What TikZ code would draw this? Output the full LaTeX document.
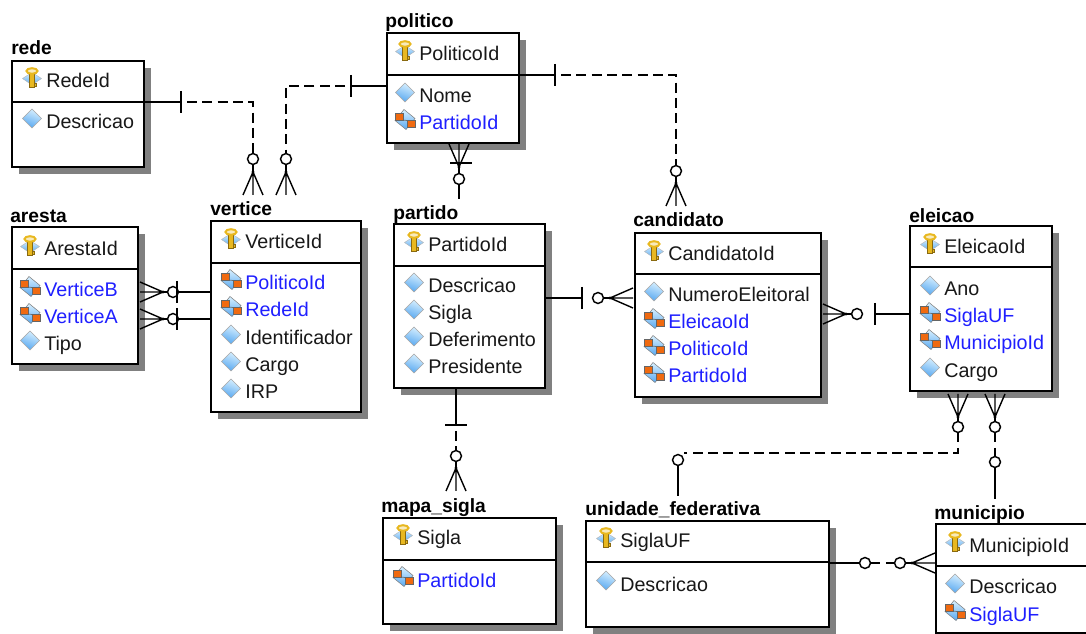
\documentclass[tikz,border=0pt]{standalone}
\usepackage{fontspec}
\setmainfont{Liberation Sans}
\usetikzlibrary{shadows,calc}
\definecolor{fkblue}{HTML}{1F1FFF}
\definecolor{shadowgray}{HTML}{808080}
\definecolor{txtdark}{HTML}{181818}
\definecolor{icontop}{HTML}{D8F0FF}
\definecolor{iconbot}{HTML}{58A8F0}
\definecolor{keygold}{HTML}{E8B820}
\definecolor{keyedge}{HTML}{8A6A10}
\definecolor{fkorange}{HTML}{F06A10}
\tikzset{
  entitybox/.style={draw=black,line width=1.4pt,fill=white,inner sep=0pt,outer sep=0pt,anchor=north west,
    general shadow={fill=shadowgray,shadow xshift=5.25pt,shadow yshift=-5.25pt}},
  titletext/.style={anchor=base west,inner sep=0pt,font=\fontsize{14.4}{17}\selectfont\bfseries,text=black},
  attrtext/.style={anchor=base west,inner sep=0pt,font=\fontsize{14.8}{17}\selectfont,text=txtdark},
  fktext/.style={attrtext,text=fkblue},
  solidline/.style={line width=1.1pt,black},
  dashline/.style={line width=1.1pt,black,dash pattern=on 7.5pt off 4pt},
  ringnode/.style={circle,draw=black,line width=1.1pt,fill=white,minimum size=8.2pt,inner sep=0pt,outer sep=0pt},
  pics/crowfeet/.style={code={
    \draw[line width=1.05pt] (0,0) -- (23,0) (0,0) -- (23,10) (0,0) -- (23,-10);
    \fill (0,0) circle[radius=1.3pt];
  }},
  pics/tickmark/.style={code={\draw[line width=1.1pt] (0,-11) -- (0,11);}},
  pics/attricon/.style={code={
    \shade[top color=icontop,bottom color=iconbot,draw=black!35,line width=.4pt,shading angle=-20]
      (0,-9.5) -- (9.5,0) -- (0,9.5) -- (-9.5,0) -- cycle;
  }},
  pics/fkicon/.style={code={
    \shade[top color=icontop,bottom color=iconbot,draw=black!50,line width=.4pt]
      (-1,-10) -- (10,-1) -- (1,10) -- (-10,1) -- cycle;
    \fill[fkorange,draw=black!60,line width=.3pt] (-10,-6.5) rectangle (-2,0.5);
    \fill[fkorange,draw=black!60,line width=.3pt] (2,1) rectangle (10,8);
    \draw[black!60,line width=.5pt] (-2,0.5) -- (2,1);
  }},
  pics/keyicon/.style={code={
    \shade[top color=icontop,bottom color=iconbot,draw=black!30,line width=.3pt]
      (0,-5) -- (9.5,1) -- (0,7.5) -- (-9.5,1) -- cycle;
    \draw[draw=keyedge,fill=keygold,line width=.4pt] (-2.3,-4) rectangle (2.3,9.5);
    \draw[draw=keyedge,fill=keygold,line width=.4pt] (2.3,5.5) rectangle (4.5,8.5);
    \draw[draw=keygold,fill=white!70!keygold,line width=1.5pt] (0,-6.5) ellipse[x radius=5.5,y radius=2.8];
  }},
}
\newcommand{\entitybox}[8]{%
  \node[entitybox,minimum width={(#4-#2)*0.75pt},minimum height={(#5-#3)*0.75pt}] (#1) at (#2,#3) {};
  \draw[line width=1.2pt] (#1.west |- 0,#6) -- (#1.east |- 0,#6);
  \node[titletext] (#1-title) at (#7,#8+1.5) {\detokenize{#1}};
}
\newcommand{\keyrow}[4]{\pic at (#2,#3-9.5) {keyicon}; \node[attrtext] (#1-#4) at (#2+14,#3+1) {#4};}
\newcommand{\plainrow}[4]{\pic at (#2,#3-9.5) {attricon}; \node[attrtext] (#1-#4) at (#2+14,#3+1) {#4};}
\newcommand{\fkrow}[4]{\pic at (#2,#3-9.5) {fkicon}; \node[fktext] (#1-#4) at (#2+14,#3+1) {#4};}
\begin{document}
\begin{tikzpicture}[x=0.75pt,y=-0.75pt]
\useasboundingbox (0,0) rectangle (1086,634);
\clip (0,0) rectangle (1086,634);

% rede
\entitybox{rede}{12}{61}{144}{167}{102}{11}{53}
\keyrow{rede}{32}{87}{RedeId}
\plainrow{rede}{32}{128}{Descricao}
% politico
\entitybox{politico}{387}{33}{519}{143}{75}{385}{26}
\keyrow{politico}{405}{60}{PoliticoId}
\plainrow{politico}{405}{102}{Nome}
\fkrow{politico}{405}{129}{PartidoId}
% aresta
\entitybox{aresta}{12}{227}{138}{364}{269}{10}{221}
\keyrow{aresta}{30}{255}{ArestaId}
\fkrow{aresta}{30}{296}{VerticeB}
\fkrow{aresta}{30}{323}{VerticeA}
\plainrow{aresta}{30}{350}{Tipo}
% vertice
\entitybox{vertice}{211}{221}{361}{412}{263}{210}{214}
\keyrow{vertice}{231}{248}{VerticeId}
\fkrow{vertice}{231}{289}{PoliticoId}
\fkrow{vertice}{231}{316}{RedeId}
\plainrow{vertice}{231}{344}{Identificador}
\plainrow{vertice}{231}{371}{Cargo}
\plainrow{vertice}{231}{398}{IRP}
% partido
\entitybox{partido}{394}{224}{545}{388}{266}{393}{218}
\keyrow{partido}{414}{251}{PartidoId}
\plainrow{partido}{414}{292}{Descricao}
\plainrow{partido}{414}{319}{Sigla}
\plainrow{partido}{414}{346}{Deferimento}
\plainrow{partido}{414}{373}{Presidente}
% candidato
\entitybox{candidato}{635}{233}{821}{397}{274}{633}{225}
\keyrow{candidato}{654}{260}{CandidatoId}
\plainrow{candidato}{654}{301}{NumeroEleitoral}
\fkrow{candidato}{654}{328}{EleicaoId}
\fkrow{candidato}{654}{355}{PoliticoId}
\fkrow{candidato}{654}{382}{PartidoId}
% eleicao
\entitybox{eleicao}{910}{226}{1052}{391}{267}{909}{221}
\keyrow{eleicao}{930}{253}{EleicaoId}
\plainrow{eleicao}{930}{295}{Ano}
\fkrow{eleicao}{930}{322}{SiglaUF}
\fkrow{eleicao}{930}{349}{MunicipioId}
\plainrow{eleicao}{930}{377}{Cargo}
% mapa_sigla
\entitybox{mapa_sigla}{383}{518}{556}{624}{560}{381}{511}
\keyrow{mapa_sigla}{403}{544}{Sigla}
\fkrow{mapa_sigla}{403}{586}{PartidoId}
% unidade_federativa
\entitybox{unidade_federativa}{586}{521}{829}{627}{562}{585}{514}
\keyrow{unidade_federativa}{606}{547}{SiglaUF}
\plainrow{unidade_federativa}{606}{590}{Descricao}
% municipio
\entitybox{municipio}{936}{524}{1096}{633}{566}{934}{518}
\keyrow{municipio}{955}{551}{MunicipioId}
\plainrow{municipio}{955}{593}{Descricao}
\fkrow{municipio}{955}{620}{SiglaUF}

% rede -- vertice
\coordinate (t1) at (181,102);
\coordinate (b1) at (253,102);
\coordinate (a1) at (253,172);
\node[ringnode] (r1) at (253,159) {};
\draw[solidline] (rede.east |- t1) -- (t1);
\pic at (t1) {tickmark};
\draw[dashline] (t1) ++(6,0) -- (b1) -- (r1);
\draw[solidline] (r1) -- (a1);
\pic[rotate=-90] at (a1) {crowfeet};

% politico -- vertice
\coordinate (t2) at (351,86);
\coordinate (b2) at (286,86);
\coordinate (a2) at (286,172);
\node[ringnode] (r2) at (286,159) {};
\draw[solidline] (politico.west |- t2) -- (t2);
\pic at (t2) {tickmark};
\draw[dashline] (t2) ++(-6,0) -- (b2) -- (r2);
\draw[solidline] (r2) -- (a2);
\pic[rotate=-90] at (a2) {crowfeet};

% vertice -- aresta (two)
\foreach \n/\yy in {3/292,4/319}{
  \coordinate (a\n) at (163,\yy);
  \coordinate (t\n) at (177,\yy);
  \node[ringnode] (r\n) at (173,\yy) {};
  \draw[solidline] (vertice.west |- r\n) -- (r\n);
  \draw[solidline] (r\n) -- (a\n);
  \pic at (t\n) {tickmark};
  \pic[rotate=180] at (a\n) {crowfeet};
}

% politico -- partido
\coordinate (a5) at (459,167);
\coordinate (t5) at (459,163);
\coordinate (e5) at (459,199);
\node[ringnode] (r5) at (459,179) {};
\draw[solidline] (a5) -- (r5) -- (e5);
\pic[rotate=90] at (a5) {crowfeet};
\draw[line width=1.1pt] ($(t5)+(-9,0)$) -- ($(t5)+(13,0)$);

% politico -- candidato
\coordinate (t6) at (555,75);
\coordinate (b6) at (676,75);
\coordinate (a6) at (676,183);
\node[ringnode] (r6) at (676,171) {};
\draw[solidline] (politico.east |- t6) -- (t6);
\pic at (t6) {tickmark};
\draw[dashline] (t6) ++(6,0) -- (b6) -- (r6);
\draw[solidline] (r6) -- (a6);
\pic[rotate=-90] at (a6) {crowfeet};

% partido -- candidato
\coordinate (t7) at (582,298);
\coordinate (a7) at (610,298);
\node[ringnode] (r7) at (598,298) {};
\draw[solidline] (partido.east |- t7) -- (t7);
\pic at (t7) {tickmark};
\draw[solidline] (r7) -- (a7);
\pic[rotate=0] at (a7) {crowfeet};

% candidato -- eleicao
\coordinate (t8) at (875,314);
\coordinate (a8) at (846,314);
\node[ringnode] (r8) at (857,314) {};
\draw[solidline] (eleicao.west |- t8) -- (t8);
\pic at (t8) {tickmark};
\draw[solidline] (r8) -- (a8);
\pic[rotate=180] at (a8) {crowfeet};

% partido -- mapa_sigla
\coordinate (t9) at (456,425);
\coordinate (d9) at (456,431);
\coordinate (a9) at (456,468);
\node[ringnode] (r9) at (456,456) {};
\draw[solidline] (t9 |- partido.south) -- (t9);
\draw[line width=1.1pt] ($(t9)+(-11,0)$) -- ($(t9)+(11,0)$);
\draw[dashline] (d9) -- (r9);
\draw[solidline] (r9) -- (a9);
\pic[rotate=-90] at (a9) {crowfeet};

% eleicao -- unidade_federativa
\coordinate (a10) at (958,417);
\coordinate (b10) at (958,453);
\coordinate (c10) at (684,453);
\coordinate (e10) at (678,496);
\node[ringnode] (r10) at (958,427) {};
\node[ringnode] (s10) at (678,460) {};
\draw[solidline] (r10) -- (a10);
\pic[rotate=90] at (a10) {crowfeet};
\draw[dashline] (r10) -- (b10) -- (c10);
\draw[solidline] (s10) -- (e10);

% eleicao -- municipio
\coordinate (a11) at (995,417);
\coordinate (e11) at (995,499);
\node[ringnode] (r11) at (995,427) {};
\node[ringnode] (s11) at (995,462) {};
\draw[solidline] (r11) -- (a11);
\pic[rotate=90] at (a11) {crowfeet};
\draw[dashline] (r11) -- (s11);
\draw[solidline] (s11) -- (e11);

% unidade_federativa -- municipio
\coordinate (a12) at (912,563);
\node[ringnode] (r12) at (865,563) {};
\node[ringnode] (s12) at (900,563) {};
\draw[solidline] (unidade_federativa.east |- r12) -- (r12);
\draw[dashline] (r12) -- (s12);
\draw[solidline] (s12) -- (a12);
\pic[rotate=0] at (a12) {crowfeet};
\end{tikzpicture}
\end{document}
